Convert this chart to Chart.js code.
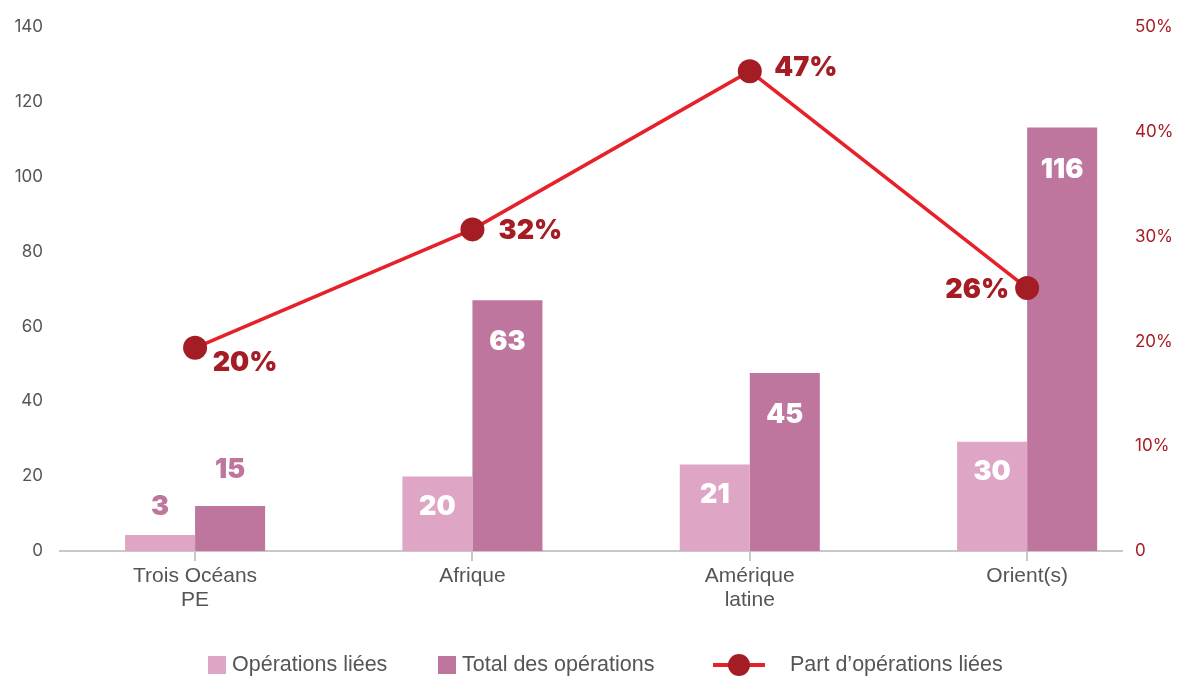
<!DOCTYPE html>
<html>
<head>
<meta charset="utf-8">
<script src="https://cdn.jsdelivr.net/npm/chart.js@4"></script>
<style>
  html, body { margin: 0; padding: 0; background: #fff; }
  #wrap { width: 1181px; height: 680px; }
</style>
</head>
<body>
<div id="wrap"><canvas id="chart" width="1181" height="680"></canvas></div>
<script>
'use strict';

const regions = [['Trois Océans', 'PE'], 'Afrique', ['Amérique', 'latine'], 'Orient(s)'];

// bar heights as drawn in the picture, and the printed values
const linkedOps = [4.3, 19.9, 23.1, 29.2];
const totalOps = [12.0, 67.0, 47.6, 113.2];
const linkedShare = [19.4, 30.7, 45.8, 25.1];

const linkedOpsText = ['3', '20', '21', '30'];
const totalOpsText = ['15', '63', '45', '116'];
const linkedShareText = ['20%', '32%', '47%', '26%'];

const leftTicks = [0, 20, 40, 60, 80, 100, 120, 140];
const rightTicks = [0, 10, 20, 30, 40, 50];

const colors = {
    light: '#dea5c5',
    dark: '#be769e',
    line: '#e62129',
    point: '#a51d24',
    pctText: '#a51c24',
    axisText: '#555555',
    axisLine: '#c8c8c8',
};

const LABEL_FONT = '900 27px Inter';
const TEXT_FONT = '"Liberation Sans", Arial, sans-serif';
// where each share label sits relative to its point
const shareLabelOffsets = [[50, 15], [58, 1], [56, -3], [-50, 2]];

const toPoints = arr => arr.map((v, i) => ({ x: i, y: v }));

const valueLabels = {
    id: 'valueLabels',
    afterDatasetsDraw(chart) {
        const ctx = chart.ctx;
        ctx.save();
        ctx.font = LABEL_FONT;
        ctx.textAlign = 'center';
        ctx.textBaseline = 'middle';
        const barTexts = [linkedOpsText, totalOpsText];
        const above = [28, 36];
        const inside = [30, 42];
        [0, 1].forEach(d => {
            chart.getDatasetMeta(d).data.forEach((bar, i) => {
                const h = bar.base - bar.y;
                if (h < 60) {
                    ctx.fillStyle = colors.dark;
                    ctx.fillText(barTexts[d][i], bar.x, bar.y - above[d]);
                } else {
                    ctx.fillStyle = '#ffffff';
                    ctx.fillText(barTexts[d][i], bar.x, bar.y + inside[d]);
                }
            });
        });
        ctx.fillStyle = colors.pctText;
        chart.getDatasetMeta(2).data.forEach((pt, i) => {
            const [dx, dy] = shareLabelOffsets[i];
            ctx.fillText(linkedShareText[i], pt.x + dx, pt.y + dy);
        });
        ctx.restore();
    },
};

const bottomLegend = {
    id: 'bottomLegend',
    afterDraw(chart) {
        const ctx = chart.ctx;
        const y = 665;
        ctx.save();
        ctx.font = '21.5px ' + TEXT_FONT;
        ctx.textBaseline = 'middle';
        ctx.textAlign = 'left';

        ctx.fillStyle = colors.light;
        ctx.fillRect(208, y - 9, 18, 18);
        ctx.fillStyle = colors.axisText;
        ctx.fillText('Opérations liées', 232, y);

        ctx.fillStyle = colors.dark;
        ctx.fillRect(438, y - 9, 18, 18);
        ctx.fillStyle = colors.axisText;
        ctx.fillText('Total des opérations', 462, y);

        ctx.strokeStyle = colors.line;
        ctx.lineWidth = 4;
        ctx.beginPath();
        ctx.moveTo(713, y);
        ctx.lineTo(765, y);
        ctx.stroke();
        ctx.fillStyle = colors.point;
        ctx.beginPath();
        ctx.arc(739, y, 11, 0, Math.PI * 2);
        ctx.fill();
        ctx.fillStyle = colors.axisText;
        ctx.fillText('Part d\u2019opérations liées', 790, y);
        ctx.restore();
    },
};

new Chart(document.getElementById('chart').getContext('2d'), {
    data: {
        datasets: [
            {
                type: 'bar',
                label: 'Opérations liées',
                data: toPoints(linkedOps),
                backgroundColor: colors.light,
                yAxisID: 'y',
                order: 2,
                barPercentage: 1,
                categoryPercentage: 0.505,
            },
            {
                type: 'bar',
                label: 'Total des opérations',
                data: toPoints(totalOps),
                backgroundColor: colors.dark,
                yAxisID: 'y',
                order: 2,
                barPercentage: 1,
                categoryPercentage: 0.505,
            },
            {
                type: 'line',
                label: 'Part d\u2019opérations liées',
                data: toPoints(linkedShare),
                borderColor: colors.line,
                borderWidth: 3.5,
                pointRadius: 12,
                pointHoverRadius: 12,
                pointBackgroundColor: colors.point,
                pointBorderColor: colors.point,
                pointBorderWidth: 0,
                yAxisID: 'y1',
                order: 0,
                tension: 0,
            },
        ],
    },
    options: {
        responsive: false,
        animation: false,
        layout: { padding: { top: 24, left: 0, right: 0, bottom: 0 } },
        plugins: {
            legend: { display: false },
            tooltip: { enabled: false },
        },
        scales: {
            x: {
                type: 'linear',
                min: -0.487,
                max: 3.342,
                offset: false,
                afterFit: s => { s.height = 129; },
                afterBuildTicks: s => { s.ticks = regions.map((r, i) => ({ value: i })); },
                border: { display: true, color: colors.axisLine, width: 2 },
                grid: {
                    drawOnChartArea: false,
                    drawTicks: true,
                    tickLength: 10,
                    color: colors.axisLine,
                    lineWidth: 2,
                    offset: false,
                },
                ticks: {
                    padding: 3,
                    color: colors.axisText,
                    font: { family: TEXT_FONT, size: 21, lineHeight: 1.15 },
                    maxRotation: 0,
                    autoSkip: false,
                    callback: v => regions[v],
                },
            },
            y: {
                position: 'left',
                min: 0,
                max: 140,
                afterFit: s => { s.width = 60; },
                afterBuildTicks: s => { s.ticks = leftTicks.map(v => ({ value: v })); },
                border: { display: false },
                grid: { display: false, drawTicks: false },
                ticks: {
                    padding: 17,
                    color: colors.axisText,
                    font: { family: 'Inter', size: 17 },
                },
            },
            y1: {
                position: 'right',
                min: 0,
                max: 50,
                afterFit: s => { s.width = 59; },
                afterBuildTicks: s => { s.ticks = rightTicks.map(v => ({ value: v })); },
                border: { display: false },
                grid: { display: false, drawTicks: false },
                ticks: {
                    padding: 13,
                    color: colors.pctText,
                    font: { family: 'Inter', size: 17 },
                    callback: v => (v === 0 ? '0' : v + '%'),
                },
            },
        },
    },
    plugins: [valueLabels, bottomLegend],
});
</script>
</body>
</html>
